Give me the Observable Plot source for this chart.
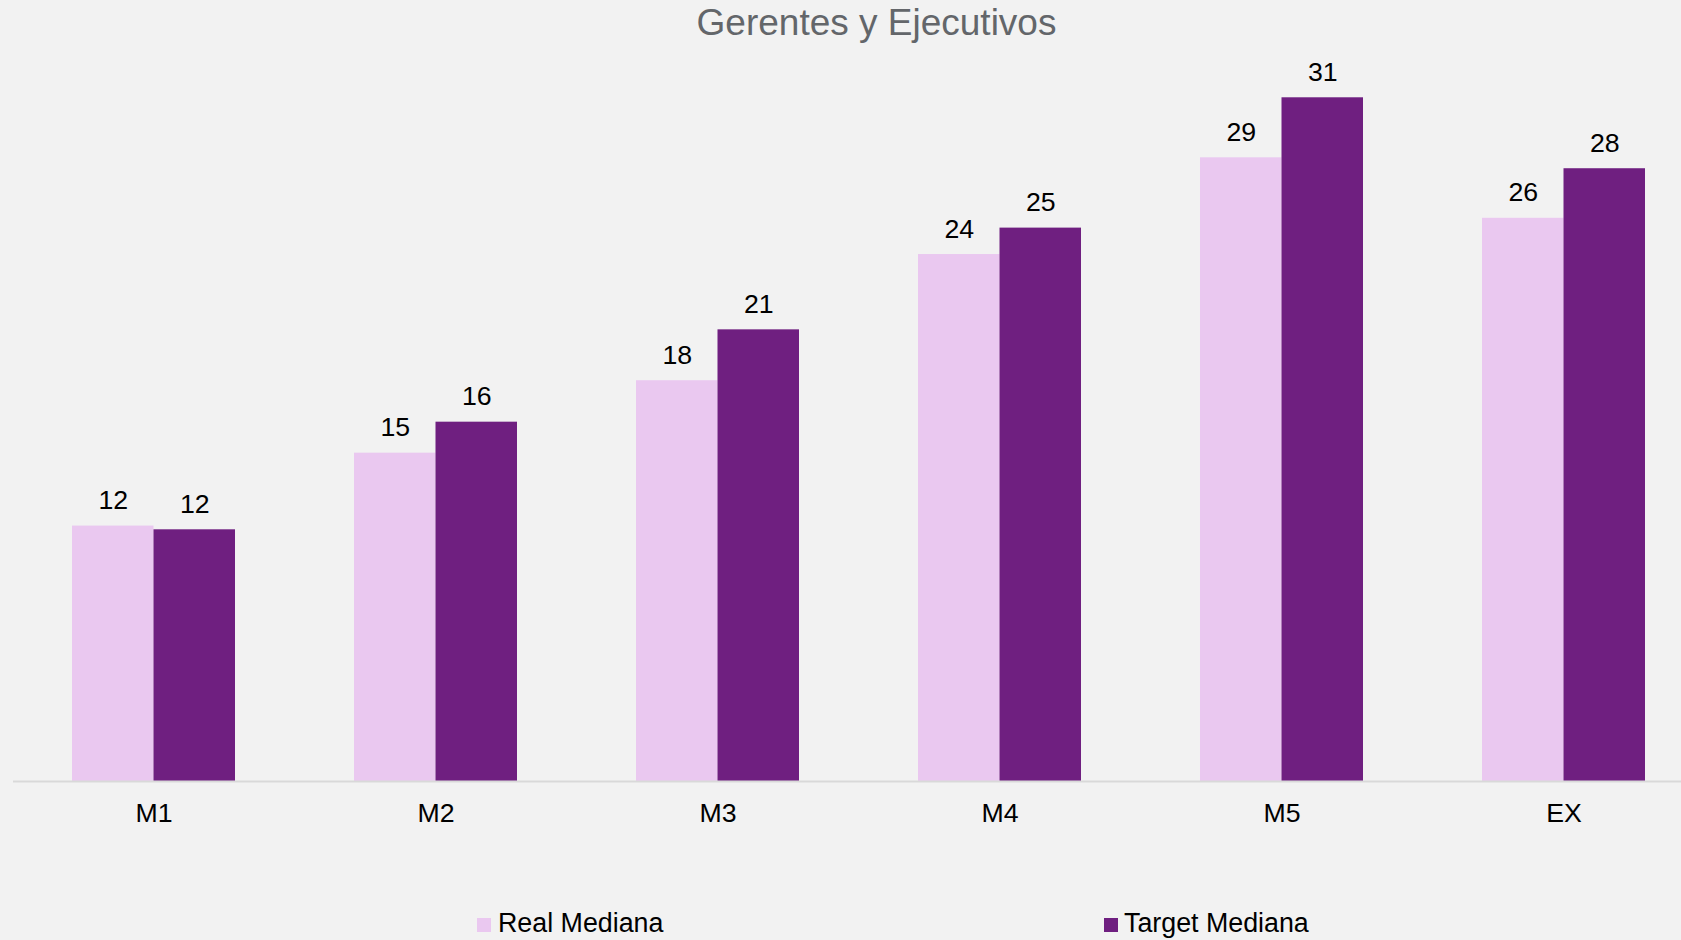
<!DOCTYPE html>
<html>
<head>
<meta charset="utf-8">
<script src="https://cdn.jsdelivr.net/npm/d3@7"></script>
<script src="https://cdn.jsdelivr.net/npm/@observablehq/plot@0.6"></script>
<style>
  html, body { margin: 0; padding: 0; background: #f2f2f2; }
  #wrap { position: relative; width: 1681px; height: 940px; background: #f2f2f2; overflow: hidden;
          font-family: "Liberation Sans", Arial, sans-serif; }
  #chart { position: absolute; left: 0; top: 0; }
  #title { position: absolute; left: 0; top: 4px; width: 1753px; text-align: center;
           font-size: 37px; line-height: 37px; color: #63666a; white-space: nowrap; }
  .leg { position: absolute; top: 910px; font-size: 26.8px; line-height: 26px; color: #000; white-space: nowrap; }
  .sw { position: absolute; top: 918px; width: 14px; height: 14px; }
</style>
</head>
<body>
<div id="wrap">
  <div id="chart"></div>
  <div id="title">Gerentes y Ejecutivos</div>
</div>
<script>
const categories = ["M1", "M2", "M3", "M4", "M5", "EX"];
const seriesNames = ["Real Mediana", "Target Mediana"];
const realValues = [11.7, 15.04, 18.36, 24.14, 28.57, 25.8];
const targetValues = [11.53, 16.46, 20.69, 25.35, 31.32, 28.07];
const colors = ["#eac8f0", "#6f1f80"];

const real = categories.map((c, i) => ({cat: c, value: realValues[i]}));
const target = categories.map((c, i) => ({cat: c, value: targetValues[i]}));

const W = 1681, H = 900;
const baseY = 781, k = 21.83, yMax = 32;
const x0 = 12.5, step = 282;
const bw = step * (1 - 0.422);
const half = bw / 2;

const chart = Plot.plot({
  width: W,
  height: H,
  marginLeft: 13,
  marginRight: 0,
  marginTop: 0,
  marginBottom: H - baseY,
  style: {background: "transparent", fontFamily: "'Liberation Sans', Arial, sans-serif", fontSize: "26.7px", color: "#000"},
  x: {domain: categories, range: [x0, x0 + step * categories.length], paddingInner: 0.422, paddingOuter: 0.211, axis: null},
  y: {domain: [0, yMax], range: [baseY, baseY - yMax * k], axis: null},
  marks: [
    Plot.barY(real, {x: "cat", y: "value", fill: colors[0], insetRight: half}),
    Plot.barY(target, {x: "cat", y: "value", fill: colors[1], insetLeft: half}),
    Plot.ruleY([0], {stroke: "#d9d9d9", strokeWidth: 2}),
    Plot.text(real, {x: "cat", y: "value", text: d => String(Math.round(d.value)), dx: -half / 2, dy: -17, lineAnchor: "bottom", fill: "#000", fontSize: 26.7}),
    Plot.text(target, {x: "cat", y: "value", text: d => String(Math.round(d.value)), dx: half / 2, dy: -17, lineAnchor: "bottom", fill: "#000", fontSize: 26.7}),
    Plot.axisX({tickSize: 0, tickPadding: 22, fontSize: 26.7, fill: "#000", label: null})
  ]
});
document.getElementById("chart").appendChild(chart);

// Legend
const wrap = document.getElementById("wrap");
const legPos = [{sw: 477, tx: 498}, {sw: 1104, tx: 1124}];
seriesNames.forEach((name, i) => {
  const s = document.createElement("div");
  s.className = "sw";
  s.style.left = legPos[i].sw + "px";
  s.style.background = colors[i];
  wrap.appendChild(s);
  const t = document.createElement("div");
  t.className = "leg";
  t.style.left = legPos[i].tx + "px";
  t.textContent = name;
  wrap.appendChild(t);
});
</script>
</body>
</html>
